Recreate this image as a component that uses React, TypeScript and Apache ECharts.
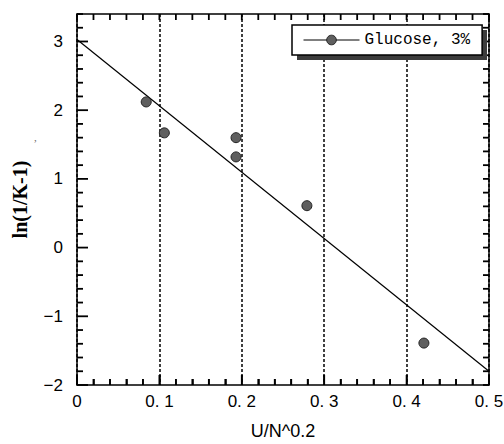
import React, { useEffect, useRef } from 'react';
import * as echarts from 'echarts';

// ---- data ----
const seriesName = 'Glucose, 3%';
const xValues = [0.084, 0.106, 0.193, 0.193, 0.279, 0.421];
const yValues = [2.12, 1.67, 1.6, 1.32, 0.61, -1.39];
const fitX = [0, 0.5];
const fitY = [3.03, -1.8];
const xMin = 0;
const xMax = 0.5;
const xStep = 0.1;
const xMinorStep = 0.02;
const yMin = -2;
const yMax = 3.4;
const yStep = 1;
const yMinorStep = 0.2;
const xName = 'U/N^0.2';
const yName = 'ln(1/K-1)';

const tickFont = "'Liberation Sans', Arial, sans-serif";

const W = 504;
const H = 444;
const PL = 77;
const PR = 15;
const PT = 14;
const PB = 59;
const plotW = W - PL - PR;
const plotH = H - PT - PB;

function xLabel(v: number): string {
  if (Math.abs(v) < 1e-9) return '0';
  return v.toFixed(1).replace('.', '. ');
}
function yLabel(v: number): string {
  if (Math.abs(v - Math.round(v)) > 1e-6) return '';
  const r = Math.round(v);
  return r < 0 ? '\u2212' + Math.abs(r) : String(r);
}

// inward tick marks on all four edges, as short line segments in data units
function buildTickSegments(): number[][][] {
  const dxPerPx = (xMax - xMin) / plotW;
  const dyPerPx = (yMax - yMin) / plotH;
  const segs: number[][][] = [];
  const nx = Math.round((xMax - xMin) / xMinorStep);
  for (let i = 0; i <= nx; i++) {
    const v = +(xMin + i * xMinorStep).toFixed(4);
    const major = Math.abs(v / xStep - Math.round(v / xStep)) < 1e-6;
    const len = (major ? 10 : 6) * dyPerPx;
    segs.push([[v, yMin], [v, yMin + len]]);
    segs.push([[v, yMax], [v, yMax - 6 * dyPerPx]]);
  }
  const ny = Math.round((yMax - yMin) / yMinorStep);
  for (let i = 0; i <= ny; i++) {
    const v = +(yMin + i * yMinorStep).toFixed(4);
    const major = Math.abs(v / yStep - Math.round(v / yStep)) < 1e-6;
    const len = (major ? 11 : 6) * dxPerPx;
    segs.push([[xMin, v], [xMin + len, v]]);
    segs.push([[xMax, v], [xMax - 6 * dxPerPx, v]]);
  }
  return segs;
}

export default function App() {
  const ref = useRef<HTMLDivElement>(null);
  useEffect(() => {
    if (!ref.current) return;
    const chart = echarts.init(ref.current, undefined, { renderer: 'svg' });
    const points = xValues.map((x, i) => [x, yValues[i]]);
    const fit = fitX.map((x, i) => [x, fitY[i]]);
    const mkLine = () => ({ show: true, onZero: false, lineStyle: { color: '#000', width: 1.5 } });

    const tickSeries = buildTickSegments().map((seg, i) => ({
      name: 'tick' + i,
      type: 'line',
      xAxisIndex: 0,
      yAxisIndex: 0,
      data: seg,
      symbol: 'none',
      showSymbol: false,
      clip: false,
      silent: true,
      lineStyle: { color: '#000', width: 1.8, opacity: 1 },
      z: 6,
    }));

    const option: any = {
      animation: false,
      backgroundColor: '#fff',
      grid: { left: PL, right: PR, top: PT, bottom: PB, outerBoundsMode: 'none', containLabel: false },
      legend: {
        data: [seriesName],
        left: 292,
        top: 25,
        orient: 'horizontal',
        padding: [7, 12, 7, 11],
        backgroundColor: '#fff',
        borderColor: '#000',
        borderWidth: 1.5,
        itemWidth: 56,
        itemHeight: 12,
        z: 10,
        textStyle: { fontFamily: "'Liberation Mono', monospace", fontSize: 16, color: '#000' },
        lineStyle: { color: '#000', width: 1, opacity: 1 },
        itemStyle: { color: '#5f5f5f', borderColor: '#222', borderWidth: 1 },
      },
      graphic: {
        elements: [
          {
            type: 'rect',
            z: 9,
            left: 297,
            top: 30,
            shape: { x: 0, y: 0, width: 190, height: 30 },
            style: { fill: '#3c3c3c' },
          },
          { type: 'text', z: 5, left: 34, top: 131, style: { text: ',', fontSize: 11, fill: '#666', fontFamily: 'serif' } },
        ],
      },
      xAxis: [
        {
          type: 'value',
          position: 'bottom',
          min: xMin,
          max: xMax,
          interval: xStep,
          name: xName,
          nameLocation: 'middle',
          nameGap: 37,
          nameTextStyle: { fontFamily: tickFont, fontSize: 18, color: '#000', verticalAlign: 'top' },
          axisLine: mkLine(),
          axisTick: { show: true, inside: true, length: 10, lineStyle: { color: '#000', width: 1.5 } },
          minorTick: { show: true, splitNumber: 5, length: 6, lineStyle: { color: '#000', width: 1.5 } },
          axisLabel: { formatter: xLabel, fontFamily: tickFont, fontSize: 17, color: '#000', margin: 8 },
          splitLine: { show: true, lineStyle: { color: '#000', width: 1.5, type: [3, 2] } },
        },
        {
          type: 'value',
          position: 'top',
          min: xMin,
          max: xMax,
          interval: xStep,
          axisLine: mkLine(),
          axisTick: { show: false },
          axisLabel: { show: false },
          splitLine: { show: false },
        },
      ],
      yAxis: [
        {
          type: 'value',
          position: 'left',
          min: yMin,
          max: yMax,
          interval: yStep,
          name: yName,
          nameLocation: 'middle',
          nameRotate: 90,
          nameGap: 47,
          nameTextStyle: {
            fontFamily: "'Liberation Serif', 'Times New Roman', serif",
            fontSize: 20,
            fontWeight: 'bold',
            color: '#000',
          },
          axisLine: mkLine(),
          axisTick: { show: false },
          axisLabel: { formatter: yLabel, fontFamily: tickFont, fontSize: 17, color: '#000', margin: 14 },
          splitLine: { show: false },
        },
        {
          type: 'value',
          position: 'right',
          min: yMin,
          max: yMax,
          interval: yStep,
          axisLine: mkLine(),
          axisTick: { show: false },
          axisLabel: { show: false },
          splitLine: { show: false },
        },
      ],
      series: [
        ...tickSeries,
        {
          name: 'fit',
          type: 'line',
          xAxisIndex: 0,
          yAxisIndex: 0,
          data: fit,
          showSymbol: false,
          symbol: 'none',
          lineStyle: { color: '#000', width: 1.2 },
          silent: true,
          z: 3,
        },
        {
          name: seriesName,
          type: 'line',
          xAxisIndex: 0,
          yAxisIndex: 0,
          data: points,
          symbol: 'circle',
          symbolSize: 10,
          showSymbol: true,
          lineStyle: { width: 0, opacity: 0 },
          itemStyle: { color: '#5f5f5f', borderColor: '#222', borderWidth: 1 },
          z: 4,
        },
      ],
    };
    chart.setOption(option);
    return () => chart.dispose();
  }, []);
  return (
    <div
      ref={ref}
      style={{ position: 'fixed', left: 0, top: 0, width: W, height: H, background: '#fff' }}
    />
  );
}
